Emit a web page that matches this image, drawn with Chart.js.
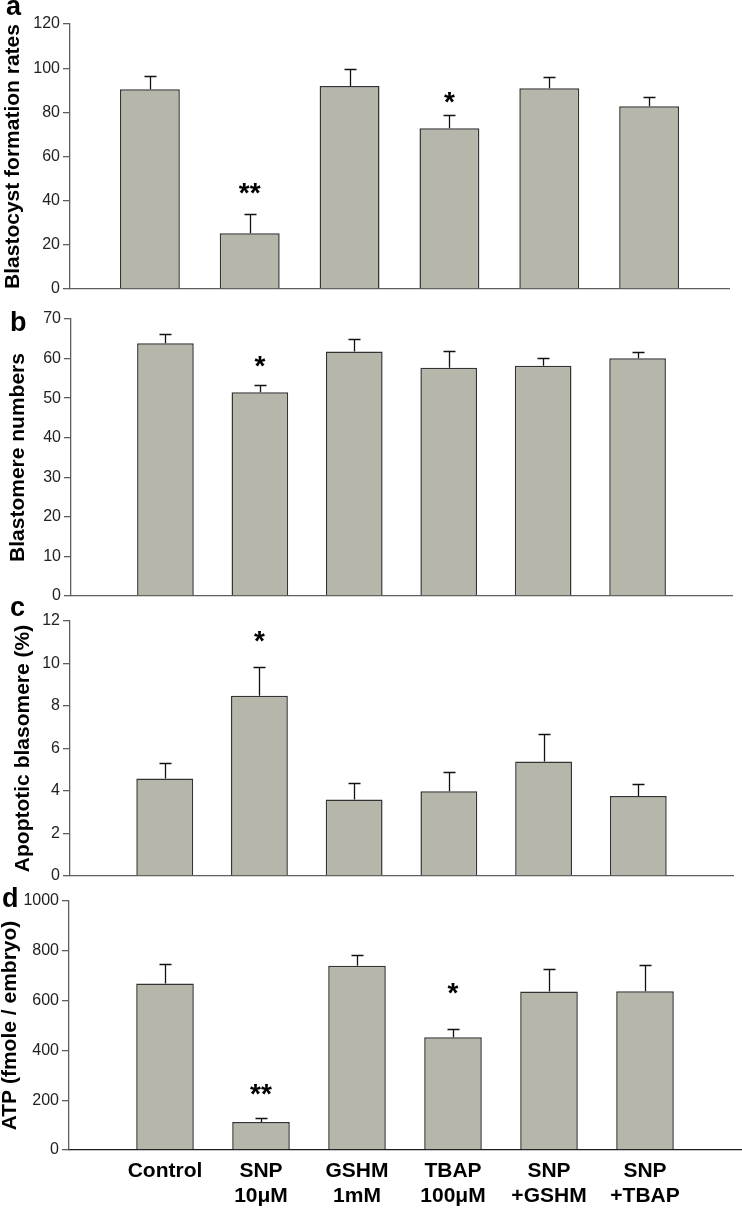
<!DOCTYPE html>
<html>
<head>
<meta charset="utf-8">
<script src="https://cdn.jsdelivr.net/npm/chart.js@4.4.1/dist/chart.umd.min.js"></script>
<style>
  html, body { margin: 0; padding: 0; background: #fff; }
  #wrap { position: relative; width: 742px; height: 1210px; overflow: hidden; }
  #wrap canvas { position: absolute; left: 0; }
</style>
</head>
<body>
<div id="wrap">
  <canvas id="panelA"></canvas>
  <canvas id="panelB"></canvas>
  <canvas id="panelC"></canvas>
  <canvas id="panelD"></canvas>
</div>
<script>
// treatment groups (two-line labels under panel d)
const categories = [['Control'], ['SNP', '10μM'], ['GSHM', '1mM'], ['TBAP', '100μM'], ['SNP', '+GSHM'], ['SNP', '+TBAP']];

// a: blastocyst formation rates
const blastocystRates = [90.4, 25.2, 91.9, 72.8, 90.9, 82.7];
const blastocystErr = [5.9, 8.9, 7.9, 6.0, 5.1, 4.1];
const blastocystMarks = ['', '**', '', '*', '', ''];
const blastocystMarkAt = [null, 45.3, null, 86.5, null, null];

// b: blastomere numbers
const blastomereNumbers = [63.9, 51.5, 61.8, 57.7, 58.2, 60.1];
const blastomereErr = [2.4, 1.7, 3.2, 4.1, 1.9, 1.6];
const blastomereMarks = ['', '*', '', '', '', ''];
const blastomereMarkAt = [null, 59.2, null, null, null, null];

// c: apoptotic blastomeres (%)
const apoptoticPct = [4.59, 8.48, 3.60, 3.99, 5.39, 3.77];
const apoptoticErr = [0.72, 1.34, 0.80, 0.91, 1.30, 0.54];
const apoptoticMarks = ['', '*', '', '', '', ''];
const apoptoticMarkAt = [null, 11.25, null, null, null, null];

// d: ATP content (fmole / embryo)
const atpContent = [669, 112, 740, 453, 637, 638];
const atpErr = [77, 15, 43, 34, 89, 104];
const atpMarks = ['', '**', '', '*', '', ''];
const atpMarkAt = [null, 241, null, 650, null, null];

const FONT = "'Liberation Sans', Arial, Helvetica, sans-serif";
const BAR_FILL = '#b6b6aa';
const BAR_EDGE = '#333333';
const AXIS_GREY = '#5e5e5e';

const panels = [
    {
        id: 'panelA', top: 0, height: 310, letter: 'a', letterX: 6, letterY: 15,
        title: 'Blastocyst formation rates', titleX: 13,
        yMax: 120, yStep: 20, xMin: -0.8, xMax: 5.8,
        axisLeft: 70, axisRight: 729, plotTop: 24, plotBottom: 289,
        values: blastocystRates, errors: blastocystErr, marks: blastocystMarks, markAt: blastocystMarkAt,
        xAxisColor: AXIS_GREY, showLabels: false,
    },
    {
        id: 'panelB', top: 295, height: 320, letter: 'b', letterX: 10, letterY: 331,
        title: 'Blastomere numbers', titleX: 18.5,
        yMax: 70, yStep: 10, xMin: -1, xMax: 6,
        axisLeft: 71, axisRight: 732, plotTop: 319, plotBottom: 596,
        values: blastomereNumbers, errors: blastomereErr, marks: blastomereMarks, markAt: blastomereMarkAt,
        xAxisColor: AXIS_GREY, showLabels: false,
    },
    {
        id: 'panelC', top: 600, height: 290, letter: 'c', letterX: 10, letterY: 616,
        title: 'Apoptotic blasomere (%)', titleX: 23,
        yMax: 12, yStep: 2, xMin: -1, xMax: 6,
        axisLeft: 70, axisRight: 733, plotTop: 621, plotBottom: 876,
        values: apoptoticPct, errors: apoptoticErr, marks: apoptoticMarks, markAt: apoptoticMarkAt,
        xAxisColor: AXIS_GREY, showLabels: false,
    },
    {
        id: 'panelD', top: 880, height: 330, letter: 'd', letterX: 2, letterY: 907,
        title: 'ATP (fmole / embryo)', titleX: 10.5,
        yMax: 1000, yStep: 200, xMin: -1, xMax: 6,
        axisLeft: 69, axisRight: 741, plotTop: 901, plotBottom: 1150,
        values: atpContent, errors: atpErr, marks: atpMarks, markAt: atpMarkAt,
        xAxisColor: '#1a1a1a', showLabels: true,
    },
];

// error bars, significance stars and panel letter
function overlay(p) {
    return {
        id: 'overlay',
        afterDatasetsDraw(chart) {
            const { ctx, scales: { x, y } } = chart;
            ctx.save();
            ctx.strokeStyle = '#111';
            ctx.lineWidth = 1.3;
            p.values.forEach((v, i) => {
                const cx = Math.round(x.getPixelForValue(i)) + 0.5;
                const y0 = y.getPixelForValue(v);
                const y1 = Math.round(y.getPixelForValue(v + p.errors[i])) + 0.5;
                ctx.beginPath();
                ctx.moveTo(cx, y0);
                ctx.lineTo(cx, y1);
                ctx.moveTo(cx - 6, y1);
                ctx.lineTo(cx + 6, y1);
                ctx.stroke();
            });

            ctx.fillStyle = '#000';
            ctx.font = 'bold 28px ' + FONT;
            ctx.textAlign = 'center';
            ctx.textBaseline = 'alphabetic';
            p.marks.forEach((m, i) => {
                if (!m) return;
                const mm = ctx.measureText(m);
                const cy = y.getPixelForValue(p.markAt[i]);
                const base = cy + (mm.actualBoundingBoxAscent - mm.actualBoundingBoxDescent) / 2;
                ctx.fillText(m, x.getPixelForValue(i), base);
            });

            ctx.textAlign = 'left';
            ctx.font = 'bold 27px ' + FONT;
            ctx.fillText(p.letter, p.letterX, p.letterY - p.top);
            ctx.restore();
        },
    };
}

function makeChart(p) {
    const canvas = document.getElementById(p.id);
    canvas.width = 742;
    canvas.height = p.height;
    canvas.style.width = '742px';
    canvas.style.height = p.height + 'px';
    canvas.style.top = p.top + 'px';

    return new Chart(canvas, {
        type: 'bar',
        data: {
            datasets: [
                {
                    data: p.values.map((v, i) => ({ x: i, y: v })),
                    backgroundColor: BAR_FILL,
                    borderColor: BAR_EDGE,
                    borderWidth: 1.5,
                    barPercentage: 0.6,
                    categoryPercentage: 1,
                },
            ],
        },
        options: {
            responsive: false,
            animation: false,
            events: [],
            layout: {
                padding: { left: 0, right: 742 - p.axisRight, top: p.plotTop - p.top, bottom: 0 },
            },
            plugins: {
                legend: { display: false },
                tooltip: { enabled: false },
            },
            scales: {
                x: {
                    type: 'linear',
                    min: p.xMin,
                    max: p.xMax,
                    offset: false,
                    afterBuildTicks: (s) => {
                        s.ticks = categories.map((_, i) => ({ value: i }));
                    },
                    afterFit: (s) => {
                        s.height = p.height - (p.plotBottom - p.top);
                    },
                    grid: { display: false, drawTicks: false },
                    border: { display: true, color: p.xAxisColor, width: 1.3 },
                    ticks: {
                        display: p.showLabels,
                        autoSkip: false,
                        maxRotation: 0,
                        minRotation: 0,
                        padding: 9,
                        color: '#000',
                        font: { family: FONT, size: 21, weight: 'bold', lineHeight: 25 / 21 },
                        callback: (v) => categories[v] ?? '',
                    },
                },
                y: {
                    min: 0,
                    max: p.yMax,
                    afterFit: (s) => {
                        s.width = p.axisLeft;
                    },
                    grid: { drawOnChartArea: false, tickLength: 7, color: AXIS_GREY, tickColor: AXIS_GREY, lineWidth: 1.3 },
                    border: { color: AXIS_GREY, width: 1.3 },
                    ticks: {
                        stepSize: p.yStep,
                        padding: 3,
                        color: '#222',
                        font: { family: FONT, size: 16 },
                        callback: (v) => String(v),
                    },
                    title: {
                        display: true,
                        text: p.title,
                        color: '#000',
                        font: { family: FONT, size: 21, weight: 'bold', lineHeight: 1 },
                        padding: { top: Math.max(0, p.titleX - 10.5), bottom: 0 },
                    },
                },
            },
        },
        plugins: [overlay(p)],
    });
}

panels.forEach(makeChart);
</script>
</body>
</html>
